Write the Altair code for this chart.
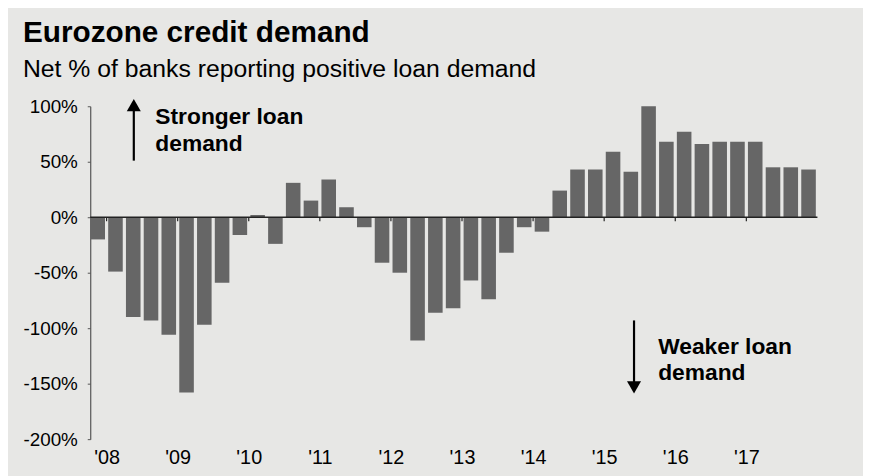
import altair as alt
import pandas as pd

# ---- data ----
quarters = [
    "2007Q4",
    "2008Q1", "2008Q2", "2008Q3", "2008Q4",
    "2009Q1", "2009Q2", "2009Q3", "2009Q4",
    "2010Q1", "2010Q2", "2010Q3", "2010Q4",
    "2011Q1", "2011Q2", "2011Q3", "2011Q4",
    "2012Q1", "2012Q2", "2012Q3", "2012Q4",
    "2013Q1", "2013Q2", "2013Q3", "2013Q4",
    "2014Q1", "2014Q2", "2014Q3", "2014Q4",
    "2015Q1", "2015Q2", "2015Q3", "2015Q4",
    "2016Q1", "2016Q2", "2016Q3", "2016Q4",
    "2017Q1", "2017Q2", "2017Q3", "2017Q4",
]
net_demand = [
    -20,
    -49, -90, -93, -106,
    -158, -97, -59, -16,
    2, -24, 31, 15,
    34, 9, -9, -41,
    -50, -111, -86, -82,
    -57, -74, -32, -9,
    -13, 24, 43, 43,
    59, 41, 100, 68,
    77, 66, 68, 68,
    68, 45, 45, 43,
]
year_ticks = [2008, 2009, 2010, 2011, 2012, 2013, 2014, 2015, 2016, 2017]
y_ticks = [-200, -150, -100, -50, 0, 50, 100]

FONT = "Liberation Sans, Arial, Helvetica, sans-serif"
BG = "#e7e7e5"
BAR = "#666666"

df = pd.DataFrame({"quarter": quarters, "value": net_demand})
df["year"] = df["quarter"].str[:4].astype(int)
df["q"] = df["quarter"].str[-1].astype(int)
gap = 0.0225
df["start"] = df["year"] + (df["q"] - 1) / 4 + gap
df["end"] = df["year"] + df["q"] / 4 - gap

xscale = alt.Scale(domain=[2007.77, 2018.0], nice=False, zero=False)
yscale = alt.Scale(domain=[-200, 100], nice=False, zero=False)

bars = alt.Chart(df).mark_rect(color=BAR).encode(
    x=alt.X(
        "start:Q",
        scale=xscale,
        axis=alt.Axis(
            values=year_ticks,
            labelExpr="\"'\" + slice(toString(datum.value), 2)",
            domain=False,
            ticks=False,
            grid=False,
            title=None,
            labelFont=FONT,
            labelFontSize=20,
            labelColor="#000000",
            labelPadding=9,
        ),
    ),
    x2="end:Q",
    y=alt.Y(
        "value:Q",
        scale=yscale,
        axis=alt.Axis(
            values=y_ticks,
            labelExpr="datum.value + '%'",
            domain=True,
            domainColor="#555555",
            domainWidth=1.2,
            ticks=True,
            tickSize=3,
            tickColor="#555555",
            grid=False,
            title=None,
            labelFont=FONT,
            labelFontSize=19,
            labelColor="#000000",
            labelPadding=10,
        ),
    ),
    y2=alt.datum(0),
)

zero_line = alt.Chart(pd.DataFrame({"y": [0]})).mark_rule(
    color="#222222", strokeWidth=1.6
).encode(y=alt.Y("y:Q", scale=yscale))

tick_df = pd.DataFrame({"year": year_ticks})
zero_ticks = alt.Chart(tick_df).mark_rule(color="#222222", strokeWidth=1.2).encode(
    x=alt.X("year:Q", scale=xscale),
    y=alt.datum(0),
    y2=alt.datum(-3.6),
)

# annotations: arrows and labels
arrow_shafts = pd.DataFrame({
    "x": [2008.383, 2015.42],
    "y1": [51, -93],
    "y2": [97, -149],
})
shafts = alt.Chart(arrow_shafts).mark_rule(color="#000000", strokeWidth=2.2).encode(
    x=alt.X("x:Q", scale=xscale),
    y=alt.Y("y1:Q", scale=yscale),
    y2="y2:Q",
)
heads_df = pd.DataFrame({
    "x": [2008.383, 2015.42],
    "y": [101, -153.3],
    "shape": ["triangle-up", "triangle-down"],
})
heads = alt.Chart(heads_df).mark_point(
    filled=True, color="#000000", size=200, opacity=1, strokeWidth=0
).encode(
    x=alt.X("x:Q", scale=xscale),
    y=alt.Y("y:Q", scale=yscale),
    shape=alt.Shape("shape:N", scale=None, legend=None),
)
labels_df = pd.DataFrame({
    "x": [2008.686, 2015.76],
    "y": [83.9, -122.9],
    "text": ["Stronger loan\ndemand", "Weaker loan\ndemand"],
})
labels = alt.Chart(labels_df).mark_text(
    align="left",
    baseline="alphabetic",
    font=FONT,
    fontSize=23,
    fontWeight="bold",
    color="#000000",
    lineBreak="\n",
    lineHeight=27,
).encode(
    x=alt.X("x:Q", scale=xscale),
    y=alt.Y("y:Q", scale=yscale),
    text="text:N",
)

chart = (
    alt.layer(bars, zero_line, zero_ticks, shafts, heads, labels)
    .properties(
        width=734,
        height=336,
        background=BG,
        autosize=alt.AutoSizeParams(type="none"),
        padding={"left": 83, "top": 97, "right": 46, "bottom": 35},
        title=alt.TitleParams(
            text="Eurozone credit demand",
            subtitle="Net % of banks reporting positive loan demand",
            anchor="start",
            frame="bounds",
            font=FONT,
            fontSize=30,
            fontWeight="bold",
            color="#000000",
            subtitleFont=FONT,
            subtitleFontSize=25,
            subtitleColor="#000000",
            subtitlePadding=9,
            offset=16,
        ),
    )
    .configure_view(stroke=None)
)

chart.save("out.html", embed_options={"renderer": "svg", "actions": False})
